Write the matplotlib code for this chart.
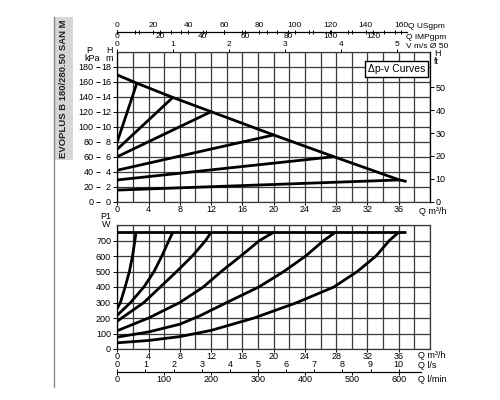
import numpy as np
import matplotlib.pyplot as plt
from matplotlib.patches import Rectangle
from matplotlib.lines import Line2D

plt.rcParams['font.family'] = ['Liberation Sans Narrow', 'Liberation Sans', 'DejaVu Sans']

# Head curves (upper chart), Q in m3/h, H in m
q_max = [0, 2.5, 7.1, 12.0, 20.0, 27.7, 36.1, 37.0]
h_max = [16.9, 15.8, 13.9, 12.0, 8.9, 6.0, 2.9, 2.7]

h_start = [8.0, 7.0, 6.0, 4.2, 2.9, 1.55]
q_end = [2.5, 7.1, 12.0, 20.0, 27.7, 36.1]
h_end = [15.8, 13.9, 12.0, 8.9, 6.0, 2.9]

# Power curves (lower chart), P1 in W
p_limit = 753
q_limit_end = 36.9
p1_q = [
    [0, 0.4, 1.0, 1.55, 1.95, 2.25, 2.4],
    [0, 1.7, 3.4, 4.7, 5.7, 6.6, 7.1],
    [0, 3.4, 5.5, 7.6, 9.6, 11.3, 12.0],
    [0, 4.0, 8.0, 11.0, 13.3, 15.8, 18.2, 20.0],
    [0, 4.0, 8.0, 10.6, 14.0, 18.1, 21.3, 24.1, 26.4, 27.9],
    [0, 4.0, 8.0, 12.0, 17.5, 23.0, 27.7, 30.7, 33.1, 34.8, 36.0],
]
p1_w = [
    [262, 300, 400, 500, 600, 700, 753],
    [218, 300, 400, 500, 600, 700, 753],
    [180, 300, 400, 500, 600, 700, 753],
    [118, 200, 300, 400, 500, 600, 700, 753],
    [77, 110, 160, 215, 300, 400, 500, 600, 700, 753],
    [40, 55, 80, 120, 200, 300, 400, 500, 600, 700, 753],
]

# unit conversions from m3/h
usgpm_per_m3h = 4.403
impgpm_per_m3h = 3.666
ms_per_m3h = 1 / 7.15
ft_per_m = 3.2808
lps_per_m3h = 1 / 3.6
lpm_per_m3h = 1000 / 60

us_ticks = [0, 20, 40, 60, 80, 100, 120, 140, 160]
imp_ticks = [0, 20, 40, 60, 80, 100, 120]
v_ticks = [0, 1, 2, 3, 4, 5]
lps_ticks = list(range(0, 11))
lpm_ticks = [0, 100, 200, 300, 400, 500, 600]

W, H = 500, 400
fs = 6.5
fs_top = 6.0
gridc = '#3a3a3a'
lw_curve = 2.0


def fx(px):
    return px / W


def fy(py):
    return 1 - py / H


fig = plt.figure(figsize=(5, 4), dpi=100)

L, R = 117.3, 430.0
xmax = 40

# ---------- upper chart ----------
ax = fig.add_axes([fx(L), fy(201.7), fx(R) - fx(L), fy(51.7) - fy(201.7)])
ax.set_xlim(0, xmax)
ax.set_ylim(0, 20)
ax.set_xticks(np.arange(0, 37, 4))
ax.set_xticks(np.arange(0, 41, 2), minor=True)
ax.set_yticks(np.arange(0, 19, 2))
ax.set_yticks(np.arange(0, 21, 2), minor=True)
ax.grid(True, which='both', color=gridc, lw=0.9)
ax.tick_params(labelsize=fs, length=2, pad=0.5, width=0.7)
ax.tick_params(axis='y', length=3, pad=1.5)
ax.tick_params(which='minor', length=0)
for s in ax.spines.values():
    s.set_color(gridc)
    s.set_linewidth(0.9)
ax.spines['left'].set_color('black')

ax.plot(q_max, h_max, color='black', lw=lw_curve, solid_capstyle='butt')
for hs, qe, he in zip(h_start, q_end, h_end):
    ax.plot([0, qe], [hs, he], color='black', lw=lw_curve, solid_capstyle='butt')

# right: H ft
ax_ft = ax.twinx()
ax_ft.set_ylim(0, 20 * ft_per_m)
ax_ft.set_yticks([0, 10, 20, 30, 40, 50])
ax_ft.tick_params(labelsize=fs, length=3, pad=1, width=0.7)
for s in ax_ft.spines.values():
    s.set_visible(False)
ax_ft.spines['right'].set_visible(True)
ax_ft.spines['right'].set_color('black')

# left: P kPa
ax_kpa = ax.twinx()
ax_kpa.set_ylim(0, 200)
ax_kpa.yaxis.tick_left()
ax_kpa.set_yticks(np.arange(0, 181, 20))
ax_kpa.tick_params(labelsize=fs, length=3, pad=1.5, width=0.7)
ax_kpa.spines['left'].set_position(('outward', 12.5))
for s in ax_kpa.spines.values():
    s.set_visible(False)

# top: V m/s
ax_v = ax.twiny()
ax_v.set_xlim(0, xmax * ms_per_m3h)
ax_v.set_xticks(v_ticks)
ax_v.tick_params(labelsize=fs_top, length=2.5, pad=0, width=0.7)
for s in ax_v.spines.values():
    s.set_visible(False)

# top: Q USgpm / IMPgpm line
top_end = 37.0
ax_us = fig.add_axes([fx(L), fy(31.7), (fx(R) - fx(L)) * top_end / xmax, 1e-4])
ax_us.set_xlim(0, top_end * usgpm_per_m3h)
ax_us.set_xticks(us_ticks)
ax_us.set_xticks(np.arange(10, 161, 20), minor=True)
ax_us.xaxis.tick_top()
ax_us.tick_params(labelsize=fs_top, length=3, pad=0.5, width=0.7, direction='inout')
ax_us.tick_params(which='minor', length=3, width=0.7, direction='inout')
ax_us.set_yticks([])
for k in ['left', 'right', 'bottom']:
    ax_us.spines[k].set_visible(False)
ax_us.spines['top'].set_linewidth(0.8)
ax_us.patch.set_visible(False)

ax_imp = fig.add_axes([fx(L), fy(31.7), (fx(R) - fx(L)) * top_end / xmax, 1e-4])
ax_imp.set_xlim(0, top_end * impgpm_per_m3h)
ax_imp.set_xticks(imp_ticks)
ax_imp.set_xticks(np.arange(10, 131, 20), minor=True)
ax_imp.tick_params(labelsize=fs_top, length=3, pad=-0.8, width=0.7, direction='inout')
ax_imp.tick_params(which='minor', length=3, width=0.7, direction='inout')
ax_imp.set_yticks([])
for k in ['left', 'right', 'top']:
    ax_imp.spines[k].set_visible(False)
ax_imp.spines['bottom'].set_linewidth(0.8)
ax_imp.patch.set_visible(False)

# ---------- lower chart ----------
ax2 = fig.add_axes([fx(L), fy(349), fx(R) - fx(L), fy(225) - fy(349)])
ax2.set_xlim(0, xmax)
ax2.set_ylim(0, 800)
ax2.set_xticks(np.arange(0, 37, 4))
ax2.set_xticks(np.arange(0, 41, 2), minor=True)
ax2.set_yticks(np.arange(0, 701, 100))
ax2.set_yticks(np.arange(0, 801, 100), minor=True)
ax2.grid(True, which='both', color=gridc, lw=0.9)
ax2.tick_params(labelsize=fs, length=2, pad=0.3, width=0.7)
ax2.tick_params(axis='y', length=3, pad=1.5)
ax2.tick_params(which='minor', length=0)
for s in ax2.spines.values():
    s.set_color(gridc)
    s.set_linewidth(0.9)
ax2.spines['left'].set_color('black')

ax2.plot([0, q_limit_end], [p_limit, p_limit], color='black', lw=lw_curve, solid_capstyle='butt')
for qs, ps in zip(p1_q, p1_w):
    ax2.plot(qs, ps, color='black', lw=lw_curve, solid_capstyle='butt')

# bottom: Q l/s / l/min line
bot_end = 38.8
ax_ls = fig.add_axes([fx(L), fy(372.3), (fx(R) - fx(L)) * bot_end / xmax, 1e-4])
ax_ls.set_xlim(0, bot_end * lps_per_m3h)
ax_ls.set_xticks(lps_ticks)
ax_ls.xaxis.tick_top()
ax_ls.tick_params(labelsize=fs, length=2.5, pad=0, width=0.7)
ax_ls.set_yticks([])
for k in ['left', 'right', 'bottom']:
    ax_ls.spines[k].set_visible(False)
ax_ls.spines['top'].set_linewidth(0.8)
ax_ls.patch.set_visible(False)

ax_lm = fig.add_axes([fx(L), fy(372.3), (fx(R) - fx(L)) * bot_end / xmax, 1e-4])
ax_lm.set_xlim(0, bot_end * lpm_per_m3h)
ax_lm.set_xticks(lpm_ticks)
ax_lm.tick_params(labelsize=fs, length=2, pad=0, width=0.7)
ax_lm.set_yticks([])
for k in ['left', 'right', 'top']:
    ax_lm.spines[k].set_visible(False)
ax_lm.spines['bottom'].set_linewidth(0.8)
ax_lm.patch.set_visible(False)

# ---------- texts ----------
def t(px, py, s, ha='left', size=fs, **kw):
    fig.text(fx(px), fy(py), s, ha=ha, va='center', fontsize=size, **kw)

t(408.5, 26, 'Q USgpm', size=fs_top)
t(406, 37.5, 'Q IMPgpm', size=fs_top)
t(406, 46.5, 'V m/s Ø 50', size=fs_top)
t(89.5, 50.5, 'P', ha='center')
t(92, 58.3, 'kPa', ha='center')
t(109.5, 50.5, 'H', ha='center')
t(109.5, 58.3, 'm', ha='center')
t(434, 54, 'H')
t(434, 62, 'ft')
t(419, 211, 'Q m³/h')
t(106, 216.7, 'P1', ha='center')
t(106, 224.7, 'W', ha='center')
t(418, 355, 'Q m³/h')
t(418, 365.5, 'Q l/s')
t(418, 379, 'Q l/min')

fig.text(fx(396.5), fy(69), 'Δp-v Curves', ha='center', va='center', fontsize=7.5,
         bbox=dict(boxstyle='square,pad=0.25', fc='white', ec='black', lw=1.0))

# title box on the left
fig.patches.append(Rectangle((fx(54), fy(160)), fx(73) - fx(54), fy(17) - fy(160),
                             transform=fig.transFigure, fc='#d6d6d6', ec='none'))
fig.lines.append(Line2D([fx(54), fx(54)], [fy(17), fy(387)], transform=fig.transFigure,
                        color='#8a8a8a', lw=1.0))
fig.text(fx(64), fy(88.5), 'EVOPLUS B 180/280.50 SAN M', rotation=90, ha='center',
         va='center', fontsize=6.8, fontweight='bold', color='#222222')

fig.savefig('out.png', dpi=100)
